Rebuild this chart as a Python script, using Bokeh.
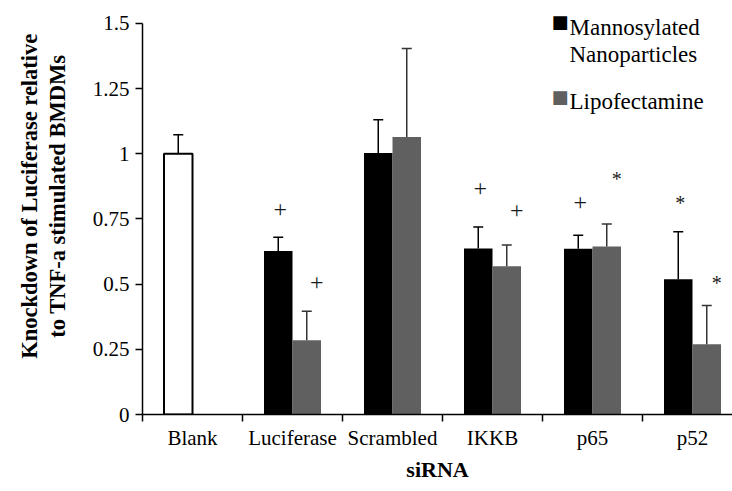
from bokeh.plotting import figure
from bokeh.models import FixedTicker, ColumnDataSource, Label, Range1d
from bokeh.core.properties import value
from bokeh.embed import file_html
from bokeh.resources import INLINE

# ---- data ----
categories = ["Blank", "Luciferase", "Scrambled", "IKKB", "p65", "p52"]
blank_value = [1.0]
blank_err_top = [1.073]
series_categories = ["Luciferase", "Scrambled", "IKKB", "p65", "p52"]
mannosylated = [0.627, 1.003, 0.637, 0.636, 0.519]
mannosylated_err_top = [0.680, 1.131, 0.719, 0.688, 0.701]
lipofectamine = [0.285, 1.064, 0.569, 0.644, 0.269]
lipofectamine_err_top = [0.396, 1.404, 0.650, 0.731, 0.418]
y_ticks = [0, 0.25, 0.5, 0.75, 1, 1.25, 1.5]
y_tick_labels = ["0", "0.25", "0.5", "0.75", "1", "1.25", "1.5"]
# significance marks
mark_category = ["Luciferase", "Luciferase", "IKKB", "IKKB", "p65", "p65", "p52", "p52"]
mark_series = ["m", "l", "m", "l", "m", "l", "m", "l"]
mark_y = [0.785, 0.505, 0.865, 0.782, 0.814, 0.922, 0.830, 0.522]
mark_symbol = ["+", "+", "+", "+", "+", "*", "*", "*"]
legend_names = ["Mannosylated\nNanoparticles", "Lipofectamine"]
y_label_lines = ["Knockdown of Luciferase relative", "to TNF-a stimulated BMDMs"]

FONT = "Liberation Serif"
BAR_W = 0.285
OFF = BAR_W / 2
CAP = 0.05
GRAY = "#606060"

def cx(c):
    return categories.index(c) + 0.5

p = figure(width=732, height=490, output_backend="svg", toolbar_location=None,
           x_range=Range1d(0, 5.9), y_range=Range1d(0, 1.588),
           min_border_left=142, min_border_right=0, min_border_top=0,
           min_border_bottom=76)
p.outline_line_color = None
p.grid.visible = False
p.background_fill_color = "white"

# Blank bar
bx = [cx(c) - OFF for c in categories[:1]]
p.vbar(x=bx, top=blank_value, width=BAR_W, fill_color="white",
       line_color="black", line_width=2)
p.segment(x0=bx, y0=blank_value, x1=bx, y1=blank_err_top, line_color="black", line_width=1.5)
p.segment(x0=[x - CAP for x in bx], y0=blank_err_top, x1=[x + CAP for x in bx],
          y1=blank_err_top, line_color="black", line_width=1.5)

mx = [cx(c) - OFF for c in series_categories]
lx = [cx(c) + OFF for c in series_categories]
p.vbar(x=mx, top=mannosylated, width=BAR_W, fill_color="black", line_color=None)
p.vbar(x=lx, top=lipofectamine, width=BAR_W, fill_color=GRAY, line_color=None)

for xs, vals, tops, col in [(mx, mannosylated, mannosylated_err_top, "black"),
                            (lx, lipofectamine, lipofectamine_err_top, "#333333")]:
    p.segment(x0=xs, y0=vals, x1=xs, y1=tops, line_color=col, line_width=1.5)
    p.segment(x0=[x - CAP for x in xs], y0=tops, x1=[x + CAP for x in xs], y1=tops,
              line_color=col, line_width=1.5)

# marks
mark_off = {"m": -OFF + 0.02, "l": OFF + 0.1}
sym_adj = {"+": 0.0, "*": -0.018}
sym_size = {"+": "24px", "*": "20px"}
src = ColumnDataSource(dict(
    x=[cx(c) + mark_off[s] for c, s in zip(mark_category, mark_series)],
    y=[y + sym_adj[t] for y, t in zip(mark_y, mark_symbol)], t=mark_symbol,
    fs=[sym_size[t] for t in mark_symbol]))
p.text(x="x", y="y", text="t", source=src, text_font=value(FONT),
       text_font_size="fs", text_align="center", text_baseline="middle",
       text_color="#1a1a1a")

# axes
p.yaxis.bounds = (0, 1.5)
p.yaxis.ticker = FixedTicker(ticks=y_ticks)
p.yaxis.major_label_overrides = {t: l for t, l in zip(y_ticks, y_tick_labels)}
p.yaxis.minor_tick_line_color = None
p.yaxis.major_tick_in = 0
p.yaxis.major_tick_out = 7
p.yaxis.axis_line_width = 1.5
p.yaxis.major_tick_line_width = 1.5
p.yaxis.major_label_text_font = FONT
p.yaxis.major_label_text_font_size = "21px"
p.yaxis.major_label_text_color = "black"
p.yaxis.major_label_standoff = 6
# a leading em space lifts the (rotated) label slightly above the frame centre
p.yaxis.axis_label = "\n".join("\u2003" + s for s in y_label_lines)
p.yaxis.axis_label_text_font = FONT
p.yaxis.axis_label_text_font_style = "bold"
p.yaxis.axis_label_text_font_size = "22.5px"
p.yaxis.axis_label_text_color = "black"
p.yaxis.axis_label_text_line_height = 1.1
p.yaxis.axis_label_standoff = 20

centers = [i + 0.5 for i in range(len(categories))]
p.xaxis.ticker = FixedTicker(ticks=centers, minor_ticks=list(range(len(categories))))
p.xaxis.major_label_overrides = {c: n for c, n in zip(centers, categories)}
p.xaxis.major_tick_in = 0
p.xaxis.major_tick_out = 0
p.xaxis.minor_tick_in = 0
p.xaxis.minor_tick_out = 7
p.xaxis.minor_tick_line_color = "black"
p.xaxis.minor_tick_line_width = 1.5
p.xaxis.axis_line_width = 1.5
p.xaxis.major_label_text_font = FONT
p.xaxis.major_label_text_font_size = "21px"
p.xaxis.major_label_text_color = "black"
p.xaxis.major_label_standoff = 4
p.xaxis.axis_label = "siRNA"
p.xaxis.axis_label_text_font = FONT
p.xaxis.axis_label_text_font_style = "bold"
p.xaxis.axis_label_text_font_size = "22px"
p.xaxis.axis_label_text_color = "black"
p.xaxis.axis_label_standoff = 4

# legend (manual, data-positioned annotations)
leg = dict(text_font=FONT, text_font_size="23px", text_color="black",
           text_baseline="alphabetic")
sq = dict(text_font="DejaVu Sans", text_font_size="18px", text_baseline="alphabetic",
          text_align="center")
line1, line2 = legend_names[0].split("\n")
p.add_layout(Label(x=4.175, y=1.508, text="■", text_color="black", **sq))
p.add_layout(Label(x=4.27, y=1.485, text=line1, **leg))
p.add_layout(Label(x=4.27, y=1.381, text=line2, **leg))
p.add_layout(Label(x=4.175, y=1.220, text="■", text_color=GRAY, **sq))
p.add_layout(Label(x=4.27, y=1.200, text=legend_names[1], **leg))

open("out.html", "w").write(file_html(p, INLINE))
